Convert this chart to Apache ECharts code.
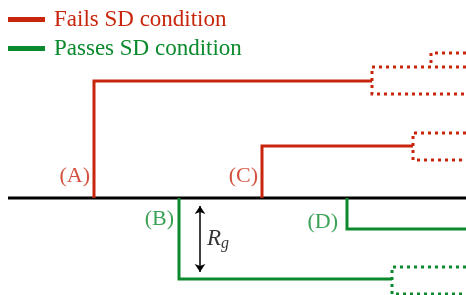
<!DOCTYPE html>
<html>
<head>
<meta charset="utf-8">
<script src="https://cdn.jsdelivr.net/npm/echarts@6/dist/echarts.min.js"></script>
<style>
  html, body { margin: 0; padding: 0; background: #fff; }
  #chartsDiv { width: 466px; height: 295px; }
</style>
</head>
<body>
<div id="chartsDiv"></div>
<script>
var RED = '#c8260c';
var GREEN = '#0a8a2c';

// diagram coordinates: x along the axis, y = height above (+) / below (-) the axis
var axisLine = [[8, 0], [466, 0]];

// solid paths
var failPaths = [
  [[94, 0], [94, 117], [372, 117]],     // (A)
  [[262, 0], [262, 52], [413, 52]]      // (C)
];
var passPaths = [
  [[179, 0], [179, -81], [392, -81]],   // (B)
  [[347, 0], [347, -31], [466, -31]]    // (D)
];

// dotted boxes that continue off the right edge
var failDotted = [
  [[466, 131], [372, 131], [372, 104], [466, 104]],
  [[466, 145], [431, 145], [431, 131]],
  [[466, 65], [413, 65], [413, 38], [466, 38]]
];
var passDotted = [
  [[466, -69], [392, -69], [392, -96], [466, -96]]
];

var tagNames = ['(A)', '(B)', '(C)', '(D)'];
var tagX = [90, 174, 258, 338];
var tagY = [22, -21, 22, -24];
var tagFail = [true, false, true, false];

var rgArrow = [[200, -8], [200, -74]];
var rgLabel = [207, -41];

var serif = 'Liberation Serif';

var toLines = function (paths) {
  return paths.map(function (p) { return { coords: p }; });
};

var realChart = echarts.init(document.getElementById('chartsDiv'));

var tagData = tagNames.map(function (n, i) {
  return {
    value: [tagX[i], tagY[i]],
    name: n,
    label: { color: tagFail[i] ? RED : GREEN }
  };
});

var option = {
  animation: false,
  grid: { left: 0, right: 0, top: 0, bottom: 0 },
  xAxis: { type: 'value', min: 0, max: 466, show: false },
  yAxis: { type: 'value', min: -97, max: 198, show: false },
  legend: {
    orient: 'vertical',
    left: 3,
    top: 3,
    itemWidth: 35,
    itemHeight: 3,
    itemGap: 6,
    selectedMode: false,
    textStyle: { fontFamily: serif, fontSize: 23, padding: [0, 0, 0, 5] },
    data: [
      { name: 'Fails SD condition', icon: 'rect', itemStyle: { color: RED }, textStyle: { color: RED } },
      { name: 'Passes SD condition', icon: 'rect', itemStyle: { color: GREEN }, textStyle: { color: GREEN } }
    ]
  },
  series: [
    {
      type: 'lines', coordinateSystem: 'cartesian2d', polyline: true, silent: true,
      lineStyle: { color: '#000', width: 3, opacity: 1 },
      data: [{ coords: axisLine }]
    },
    {
      name: 'Fails SD condition',
      type: 'lines', coordinateSystem: 'cartesian2d', polyline: true, silent: true,
      itemStyle: { color: RED },
      lineStyle: { color: RED, width: 3, opacity: 1, join: 'miter' },
      data: toLines(failPaths)
    },
    {
      name: 'Passes SD condition',
      type: 'lines', coordinateSystem: 'cartesian2d', polyline: true, silent: true,
      itemStyle: { color: GREEN },
      lineStyle: { color: GREEN, width: 3, opacity: 1, join: 'miter' },
      data: toLines(passPaths)
    },
    {
      type: 'lines', coordinateSystem: 'cartesian2d', polyline: true, silent: true,
      lineStyle: { color: RED, width: 3, opacity: 1, type: [3, 4], cap: 'butt' },
      data: toLines(failDotted)
    },
    {
      type: 'lines', coordinateSystem: 'cartesian2d', polyline: true, silent: true,
      lineStyle: { color: GREEN, width: 3, opacity: 1, type: [3, 4], cap: 'butt' },
      data: toLines(passDotted)
    },
    {
      type: 'lines', coordinateSystem: 'cartesian2d', silent: true,
      symbol: ['arrow', 'arrow'], symbolSize: 8,
      lineStyle: { color: '#000', width: 1.5, opacity: 1 },
      data: [{ coords: rgArrow }]
    },
    {
      type: 'scatter', silent: true, symbolSize: 0,
      label: {
        show: true, position: 'left', distance: 0,
        fontFamily: serif, fontSize: 22,
        formatter: function (p) { return p.name; }
      },
      data: tagData
    },
    {
      type: 'scatter', silent: true, symbolSize: 0,
      label: {
        show: true, position: 'right', distance: 0,
        formatter: '{r|R}{s|g}',
        rich: {
          r: { fontFamily: serif, fontStyle: 'italic', fontSize: 23, color: '#000' },
          s: { fontFamily: serif, fontStyle: 'italic', fontSize: 16, color: '#000', padding: [10, 0, 0, 0] }
        }
      },
      data: [{ value: rgLabel }]
    }
  ]
};

realChart.setOption(option);
</script>
</body>
</html>
